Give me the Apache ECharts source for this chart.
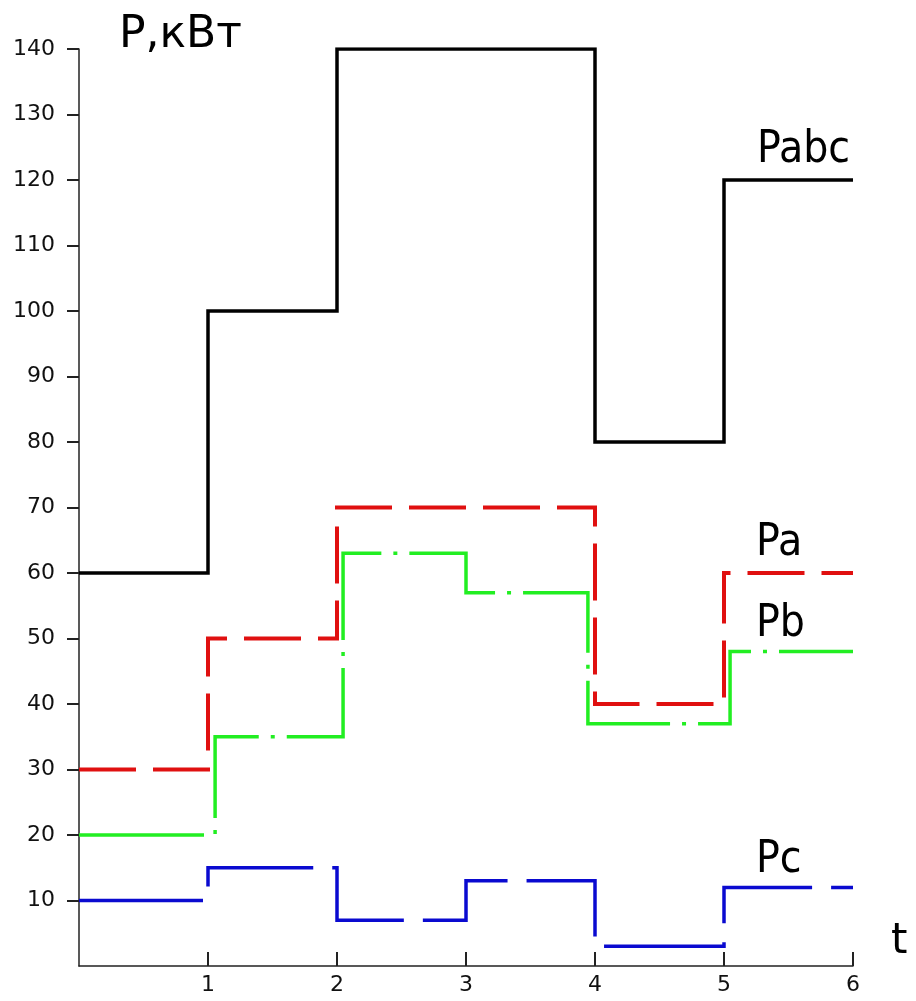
<!DOCTYPE html>
<html><head><meta charset="utf-8">
<script src="https://cdn.jsdelivr.net/npm/echarts@6/dist/echarts.min.js"></script>
<style>html,body{margin:0;padding:0;background:#fff}#c{width:916px;height:1001px}</style>
</head><body><div id="c"></div>
<script>
const intervals = [0, 1, 2, 3, 4, 5, 6];
const Pabc = [60, 100, 140, 140, 80, 120];
const Pa = [30, 50, 70, 70, 40, 60];
const Pb = [20, 35, 63, 57, 37, 48];
const Pc = [10, 15, 7, 13, 3, 12];
const yTicks = [10,20,30,40,50,60,70,80,90,100,110,120,130,140];
const xTicks = [1,2,3,4,5,6];

function steps(vals, shift) {
  const pts = [];
  for (let i = 0; i < vals.length; i++) {
    const s0 = i === 0 ? 0 : (shift ? shift[i] : 0);
    const s1 = i === vals.length - 1 ? 0 : (shift ? shift[i + 1] : 0);
    pts.push([intervals[i] + s0, vals[i]]);
    pts.push([intervals[i + 1] + s1, vals[i]]);
  }
  return pts;
}
// small visual offset so Pb's risers sit beside Pa's
const pbShift = [0, 0.055, 0.047, 0, -0.055, 0.047, 0];

const chart = echarts.init(document.getElementById('c'));
const cond = "'DejaVu Sans Condensed','DejaVu Sans',sans-serif";
const reg = "'DejaVu Sans',sans-serif";
chart.setOption({
  animation: false,
  grid: { left: 79, right: 63, top: 49, bottom: 35, containLabel: false },
  xAxis: {
    type: 'value', min: 0, max: 6, interval: 1,
    axisLine: { lineStyle: { color: '#222', width: 1.5 } },
    axisTick: { inside: true, length: 14, customValues: xTicks, lineStyle: { color: '#222', width: 2 } },
    axisLabel: { color: '#111', fontSize: 22, fontFamily: reg, margin: 8, customValues: xTicks,
      formatter: v => String(v) },
    splitLine: { show: false }
  },
  yAxis: {
    type: 'value', min: 0, max: 140, interval: 10,
    axisLine: { show: true, lineStyle: { color: '#222', width: 1.5 } },
    axisTick: { show: true, length: 12, customValues: yTicks, lineStyle: { color: '#222', width: 2 } },
    axisLabel: { color: '#111', fontSize: 22, fontFamily: reg, margin: 24, customValues: yTicks,
      formatter: v => String(v) },
    splitLine: { show: false }
  },
  series: [
    { type: 'line', name: 'Pabc', data: steps(Pabc), showSymbol: false,
      lineStyle: { color: '#000', width: 3.5, join: 'miter' } },
    { type: 'line', name: 'Pa', data: steps(Pa), showSymbol: false,
      lineStyle: { color: '#e01010', width: 4, type: [57, 17], join: 'miter' } },
    { type: 'line', name: 'Pb', data: steps(Pb, pbShift), showSymbol: false,
      lineStyle: { color: '#22ee22', width: 3.5, type: [125, 12, 4, 12], join: 'miter' } },
    { type: 'line', name: 'Pc', data: steps(Pc), showSymbol: false,
      lineStyle: { color: '#0a0ad0', width: 3.5, type: [124, 19], join: 'miter' } }
  ],
  graphic: [
    { type: 'text', left: 119, top: 14, style: { text: 'P,кВт', font: "44px " + reg, fill: '#000' } },
    { type: 'text', left: 757, top: 129, style: { text: 'Pabc', font: "44px " + cond, fill: '#000' } },
    { type: 'text', left: 756, top: 522, style: { text: 'Pa', font: "44px " + cond, fill: '#000' } },
    { type: 'text', left: 756, top: 603, style: { text: 'Pb', font: "44px " + cond, fill: '#000' } },
    { type: 'text', left: 756, top: 839, style: { text: 'Pc', font: "44px " + cond, fill: '#000' } },
    { type: 'text', left: 891, top: 921, style: { text: 't', font: "42px " + reg, fill: '#000' } }
  ]
});
</script></body></html>
